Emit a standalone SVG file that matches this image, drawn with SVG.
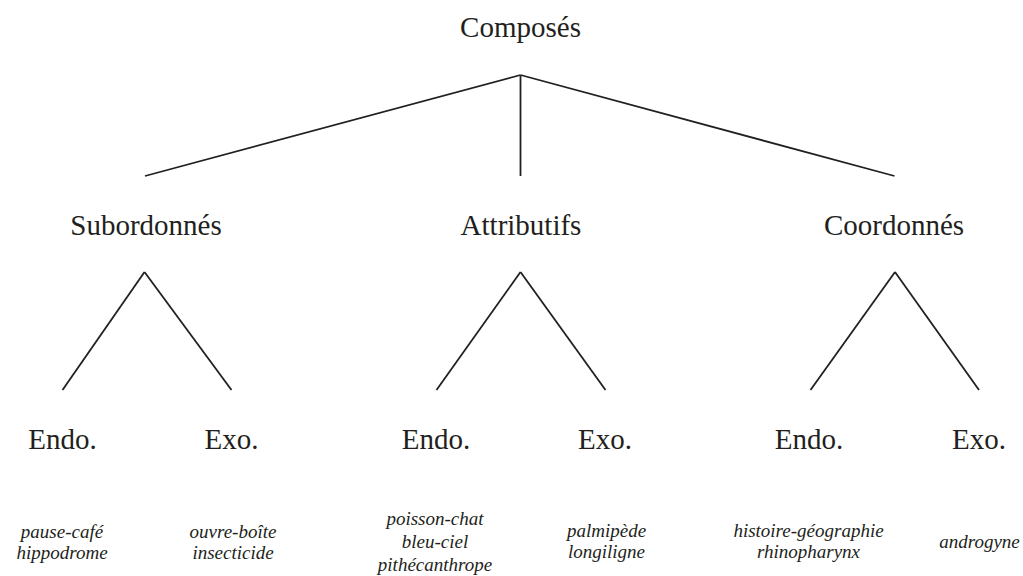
<svg xmlns="http://www.w3.org/2000/svg" width="1023" height="576" viewBox="0 0 1023 576">
<style>
.t{font-family:"Liberation Serif","Times New Roman",serif;font-size:29px;fill:#231f20;text-anchor:middle}
.e{font-family:"Liberation Serif","Times New Roman",serif;font-size:19px;font-style:italic;fill:#231f20;text-anchor:middle}
.c line{stroke:#231f20;stroke-width:1.8;fill:none}
</style>
<rect width="1023" height="576" fill="#fff"/>
<g class="c" id="connectors">
<line x1="520.5" y1="75" x2="145" y2="176"/>
<line x1="520.5" y1="75" x2="520.5" y2="176"/>
<line x1="520.5" y1="75" x2="894.5" y2="176"/>
<line x1="144.5" y1="272" x2="62.5" y2="390"/>
<line x1="144.5" y1="272" x2="231.5" y2="390"/>
<line x1="520.5" y1="272" x2="436.5" y2="390"/>
<line x1="520.5" y1="272" x2="605.5" y2="390"/>
<line x1="895" y1="272" x2="810.5" y2="390"/>
<line x1="895" y1="272" x2="979" y2="390"/>
</g>
<g id="composes"><text class="t" x="520.5" y="37">Composés</text></g>
<g id="subordonnes"><text class="t" x="146" y="235">Subordonnés</text></g>
<g id="attributifs"><text class="t" x="521" y="235">Attributifs</text></g>
<g id="coordonnes"><text class="t" x="894" y="235">Coordonnés</text></g>
<g id="sub-endo"><text class="t" x="62.5" y="449">Endo.</text></g>
<g id="sub-exo"><text class="t" x="231.5" y="449">Exo.</text></g>
<g id="att-endo"><text class="t" x="436" y="449">Endo.</text></g>
<g id="att-exo"><text class="t" x="605" y="449">Exo.</text></g>
<g id="coo-endo"><text class="t" x="809" y="449">Endo.</text></g>
<g id="coo-exo"><text class="t" x="979" y="449">Exo.</text></g>
<g id="ex-sub-endo"><text class="e" x="62" y="538">pause-café</text><text class="e" x="62" y="559">hippodrome</text></g>
<g id="ex-sub-exo"><text class="e" x="233" y="538">ouvre-boîte</text><text class="e" x="233" y="559">insecticide</text></g>
<g id="ex-att-endo"><text class="e" x="435" y="525">poisson-chat</text><text class="e" x="435" y="548">bleu-ciel</text><text class="e" x="435" y="571">pithécanthrope</text></g>
<g id="ex-att-exo"><text class="e" x="606.5" y="537">palmipède</text><text class="e" x="606.5" y="557.5">longiligne</text></g>
<g id="ex-coo-endo"><text class="e" x="808.5" y="537">histoire-géographie</text><text class="e" x="808.5" y="558">rhinopharynx</text></g>
<g id="ex-coo-exo"><text class="e" x="979.5" y="547.5">androgyne</text></g>
</svg>
